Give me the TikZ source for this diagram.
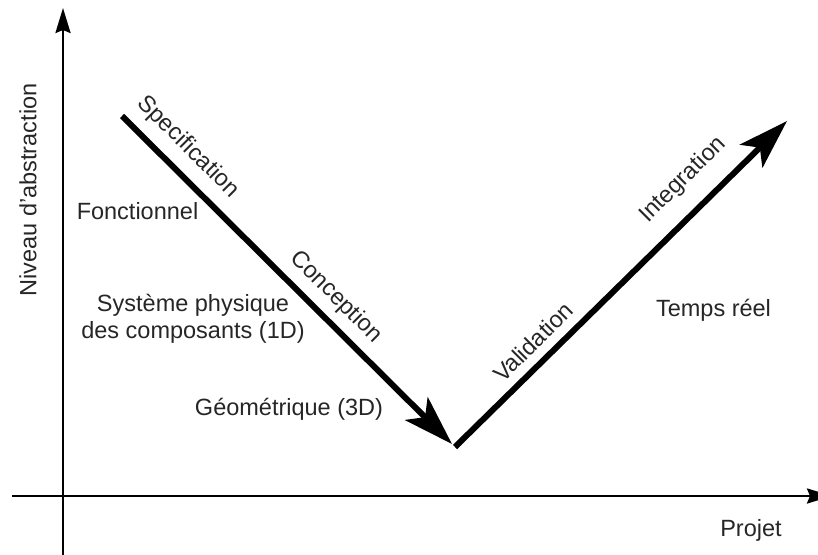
\documentclass[tikz,border=0pt]{standalone}
\usepackage{fontspec}
\setmainfont{Liberation Sans}
\usetikzlibrary{arrows.meta}
\begin{document}
\begin{tikzpicture}[x=1bp,y=-1bp,
  axis/.style={line width=2.6bp, -{Stealth[length=25bp,width=15bp,inset=3bp]}},
  phase/.style={line width=6bp, -{Stealth[length=50bp,width=32bp,inset=12bp]}},
  lbl/.style={font=\fontsize{23.5bp}{26bp}\selectfont, text=black!85, inner sep=0pt},
]
\clip (0,0) rectangle (818,555);

% end points of the axes and of the V
\coordinate (yfoot) at (63,555);
\coordinate (ytip)  at (63,8);
\coordinate (xfoot) at (12,496);
\coordinate (xtip)  at (832,496);
\coordinate (vtop)    at (122,116);
\coordinate (vdown)   at (452,444);
\coordinate (vbottom) at (455,447);
\coordinate (vtip)    at (787,121);

% axes
\draw[axis] (yfoot) -- (ytip);
\draw[axis] (xfoot) -- (xtip);

% descending and ascending branches of the V
\draw[phase] (vtop) -- (vdown);
\draw[phase] (vbottom) -- (vtip);

% axis labels
\node[lbl, rotate=90] (ylabel) at (28,190) {Niveau d'abstraction};
\node[lbl, anchor=base] (xlabel) at (751,536) {Projet};

% phase labels along the V
\node[lbl, rotate=-45] (spec)  at (188,147) {Specification};
\node[lbl, rotate=-45] (conc)  at (336,297) {Conception};
\node[lbl, rotate=45]  (valid) at (533,342) {Validation};
\node[lbl, rotate=45]  (integ) at (683,180) {Integration};

% abstraction levels
\node[lbl, anchor=base] (fonct) at (137.5,220) {Fonctionnel};
\node[lbl, anchor=base, align=center] (phys) at (193,338) {Système physique\\des composants (1D)};
\node[lbl, anchor=base] (geom) at (289,415) {Géométrique (3D)};
\node[lbl, anchor=base] (rt) at (713.5,317) {Temps réel};
\end{tikzpicture}
\end{document}
